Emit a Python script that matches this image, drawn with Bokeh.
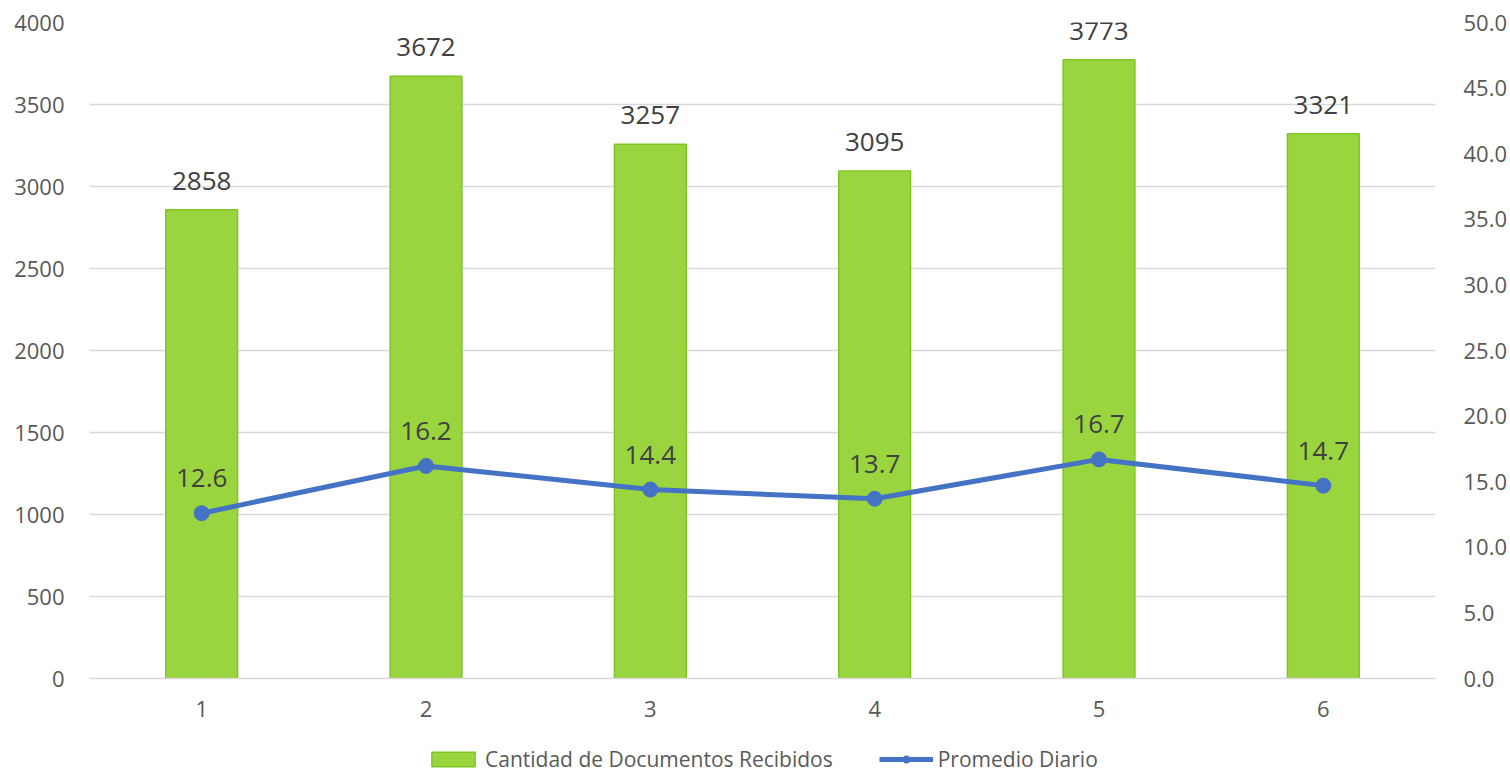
from bokeh.plotting import figure
from bokeh.models import ColumnDataSource, Range1d, LinearAxis, FixedTicker, Legend, LegendItem, LabelSet, NumeralTickFormatter
from bokeh.layouts import column
from bokeh.embed import file_html
from bokeh.resources import INLINE
from bokeh.core.properties import value

categories = ["1", "2", "3", "4", "5", "6"]
documentos = [2858, 3672, 3257, 3095, 3773, 3321]
promedio = [12.6, 16.2, 14.4, 13.7, 16.7, 14.7]
left_ticks = [0, 500, 1000, 1500, 2000, 2500, 3000, 3500, 4000]
right_ticks = [0, 5, 10, 15, 20, 25, 30, 35, 40, 45, 50]
series_names = ["Cantidad de Documentos Recibidos", "Promedio Diario"]

FONT = "Open Sans"
TXT = "#595959"
GREEN = "#9AD540"
GREEN_EDGE = "#7DC725"
BLUE = "#4472C4"

src = ColumnDataSource(dict(
    x=categories,
    doc=documentos,
    doc_lbl=[str(v) for v in documentos],
    prom=promedio,
    prom_lbl=[f"{v:.1f}" for v in promedio],
))

p = figure(width=1510, height=728, x_range=categories, y_range=Range1d(0, 4000),
           output_backend="svg", toolbar_location=None,
           min_border_left=89, min_border_right=71, min_border_top=22, min_border_bottom=50)
p.outline_line_color = None
p.extra_y_ranges = {"r": Range1d(0, 50)}

p.vbar(x="x", top="doc", width=0.32, source=src, fill_color=GREEN,
       line_color=GREEN_EDGE, line_width=1.5)
p.line(x="x", y="prom", source=src, y_range_name="r", line_color=BLUE, line_width=5)
p.scatter(x="x", y="prom", source=src, y_range_name="r", size=15,
          fill_color=BLUE, line_color=BLUE)

p.add_layout(LabelSet(x="x", y="doc", text="doc_lbl", source=src, text_align="center",
                      text_baseline="bottom", y_offset=20, text_font=value(FONT),
                      text_font_size="26px", text_color="#404040"))
p.add_layout(LabelSet(x="x", y="prom", text="prom_lbl", source=src, text_align="center",
                      text_baseline="bottom", y_offset=26, y_range_name="r", text_font=value(FONT),
                      text_font_size="26px", text_color="#404040"))

ra = LinearAxis(y_range_name="r", ticker=FixedTicker(ticks=right_ticks))
ra.formatter = NumeralTickFormatter(format="0.0")
p.add_layout(ra, "right")

for ax in [p.yaxis[0], ra]:
    ax.axis_line_color = None
    ax.major_tick_line_color = None
    ax.minor_tick_line_color = None
    ax.major_label_text_font = FONT
    ax.major_label_text_font_size = "22px"
    ax.major_label_text_color = TXT
p.yaxis[0].ticker = FixedTicker(ticks=left_ticks)
p.yaxis[0].major_label_standoff = 19
ra.major_label_standoff = 22

p.xaxis.axis_line_color = "#D9D9D9"
p.xaxis.axis_line_width = 1.5
p.xaxis.major_tick_line_color = None
p.xaxis.minor_tick_line_color = None
p.xaxis.major_label_text_font = FONT
p.xaxis.major_label_text_font_size = "22px"
p.xaxis.major_label_text_color = TXT
p.xaxis.major_label_standoff = 16

p.xgrid.grid_line_color = None
p.ygrid.grid_line_color = "#D9D9D9"
p.ygrid.grid_line_width = 1.5
p.ygrid.ticker = FixedTicker(ticks=left_ticks)

# legend strip: small figure holding legend proxies placed outside its visible range
lg = figure(width=1510, height=45, x_range=Range1d(0, 1), y_range=Range1d(0, 1),
            output_backend="svg", toolbar_location=None, min_border=0)
lg.axis.visible = False
lg.grid.visible = False
lg.outline_line_color = None
proxy = ColumnDataSource(dict(x=[-10, -11], y=[-10, -11]))
r_bar = lg.rect(x="x", y="y", width=0.1, height=0.1, source=proxy, fill_color=GREEN,
                line_color=GREEN_EDGE, line_width=1.5)
r_line = lg.line(x="x", y="y", source=proxy, line_color=BLUE, line_width=5)
r_pt = lg.scatter(x="x", y="y", source=proxy, size=14, fill_color=BLUE, line_color=BLUE)
legend = Legend(items=[LegendItem(label=series_names[0], renderers=[r_bar]),
                       LegendItem(label=series_names[1], renderers=[r_line, r_pt])],
                orientation="horizontal", location=(337, 0),
                label_text_font=FONT, label_text_font_size="21px", label_text_color=TXT,
                glyph_width=54, glyph_height=18, spacing=46, border_line_color=None,
                background_fill_alpha=0, margin=0, padding=2, label_standoff=5)
lg.add_layout(legend)

layout = column(p, lg, spacing=0)
open("out.html", "w").write(file_html(layout, INLINE))
